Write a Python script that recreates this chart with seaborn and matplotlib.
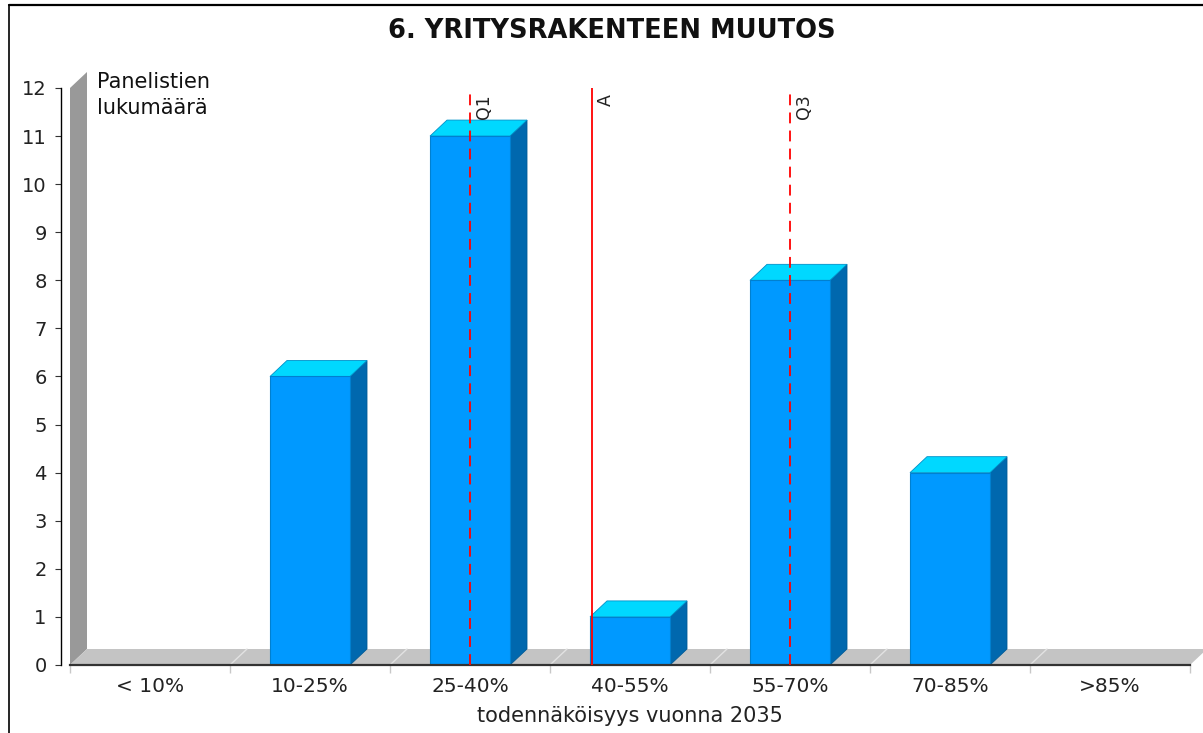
import matplotlib
matplotlib.use("Agg")
import matplotlib.pyplot as plt
import seaborn as sns
import pandas as pd
from matplotlib.patches import Polygon
from matplotlib.lines import Line2D
from matplotlib.transforms import offset_copy

# ---- data ----
categories = ["< 10%", "10-25%", "25-40%", "40-55%", "55-70%", "70-85%", ">85%"]
counts = [0, 6, 11, 1, 8, 4, 0]
marker_labels = ["Q1", "A", "Q3"]
marker_positions = [2.0, 2.76, 4.0]
marker_styles = ["dashed", "solid", "dashed"]
yticks = list(range(0, 13))
title = "6. YRITYSRAKENTEEN MUUTOS"
xlabel = "todennäköisyys vuonna 2035"
ylabel = "Panelistien\nlukumäärä"

# ---- style ----
sns.set_theme(style="white")
plt.rcParams["font.family"] = ["DejaVu Sans"]

W, H = 1203, 733
DPI = 100
fig = plt.figure(figsize=(W / DPI, H / DPI), dpi=DPI)
fig.patch.set_facecolor("white")

ax_left, ax_right, ax_top, ax_bottom = 70, 1190, 88, 665
ax = fig.add_axes([ax_left / W, (H - ax_bottom) / H,
                   (ax_right - ax_left) / W, (ax_bottom - ax_top) / H])
ax.set_facecolor("none")

df = pd.DataFrame({"cat": categories, "n": counts})
sns.barplot(data=df, x="cat", y="n", ax=ax, color="#0099FF", width=0.5,
            saturation=1, edgecolor="#0080D0", linewidth=0.8, zorder=4)

ax.set_xlim(-0.5, len(categories) - 0.5)
ax.set_ylim(0, 12)

# depth offset (pixels) converted to data units
DX, DY = 17, 16
inv = ax.transData.inverted()
x0, y0 = inv.transform(ax.transData.transform((0, 0)))
x1, y1 = inv.transform(ax.transData.transform((0, 0)) + [DX, DY])
ddx, ddy = x1 - x0, y1 - y0

xl, xr = ax.get_xlim()
ytop = ax.get_ylim()[1]

# back wall (left)
wall = Polygon([(xl, 0), (xl, ytop), (xl + ddx, ytop + ddy), (xl + ddx, ddy)],
               closed=True, facecolor="#999999", edgecolor="none",
               clip_on=False, zorder=1)
ax.add_patch(wall)
# floor
floor = Polygon([(xl, 0), (xr, 0), (xr + ddx, ddy), (xl + ddx, ddy)],
                closed=True, facecolor="#C4C4C4", edgecolor="none",
                clip_on=False, zorder=1)
ax.add_patch(floor)
# light diagonal lines on floor at category boundaries
for b in range(1, len(categories)):
    ax.plot([b - 0.5, b - 0.5 + ddx], [0, ddy], color="#E2E2E2", lw=1.0,
            clip_on=False, zorder=2)

# 3D faces of bars
for p in ax.patches:
    if not hasattr(p, "get_height"):
        continue
    h = p.get_height()
    if h <= 0:
        continue
    x = p.get_x()
    w = p.get_width()
    side = Polygon([(x + w, 0), (x + w + ddx, ddy), (x + w + ddx, h + ddy), (x + w, h)],
                   closed=True, facecolor="#0068AE", edgecolor="#005A96", lw=0.6,
                   clip_on=False, zorder=3)
    top = Polygon([(x, h), (x + ddx, h + ddy), (x + w + ddx, h + ddy), (x + w, h)],
                  closed=True, facecolor="#00D8FF", edgecolor="#0090C8", lw=0.6,
                  clip_on=False, zorder=3)
    ax.add_patch(side)
    ax.add_patch(top)

# reference markers
for lab, pos, ls in zip(marker_labels, marker_positions, marker_styles):
    line = ax.axvline(pos, color="#FF0000", lw=1.3, zorder=6)
    if ls == "dashed":
        line.set_dashes((6, 4))
    tr = offset_copy(ax.transData, fig=fig, x=5, y=-6, units="dots")
    ax.text(pos, ytop, lab, rotation=90, ha="left", va="top", fontsize=12.5,
            color="#222222", transform=tr, zorder=7)

# axes styling
for s in ["top", "right"]:
    ax.spines[s].set_visible(False)
ax.spines["left"].set_position(("outward", 9 * 72 / DPI))
ax.spines["left"].set_color("black")
ax.spines["left"].set_linewidth(1.0)
ax.spines["bottom"].set_color("#333333")
ax.spines["bottom"].set_linewidth(1.6)
ax.spines["bottom"].set_zorder(5)

ax.set_yticks(yticks)
ax.set_yticklabels([str(t) for t in yticks])
ax.tick_params(axis="y", direction="out", length=4.3, width=0.8, color="#333333",
               pad=6, labelsize=14, labelcolor="#222222", left=True)
ax.set_xticks(range(len(categories)))
ax.set_xticklabels(categories)
ax.tick_params(axis="x", which="major", length=0, pad=9, labelsize=14.5,
               labelcolor="#222222")
ax.set_xticks([b - 0.5 for b in range(0, len(categories) + 1)], minor=True)
ax.tick_params(axis="x", which="minor", direction="out", length=6, width=1.0,
               color="#C8C8C8", bottom=True)
ax.set_xlabel("")
ax.set_ylabel("")

# texts
fig.text(612 / W, 1 - 31 / H, title, ha="center", va="center", fontsize=18.5,
         fontweight="bold", color="#111111")
fig.text(630 / W, 1 - 716 / H, xlabel, ha="center", va="center", fontsize=15,
         color="#222222")
fig.text(97 / W, 1 - 72 / H, ylabel, ha="left", va="top", fontsize=15,
         color="#111111", linespacing=1.35)

# outer border (top and left)
fig.add_artist(Line2D([9 / W, 1], [1 - 4.5 / H, 1 - 4.5 / H], color="black",
                      lw=1.6, transform=fig.transFigure))
fig.add_artist(Line2D([9 / W, 9 / W], [0, 1 - 4.5 / H], color="black",
                      lw=1.2, transform=fig.transFigure))

fig.savefig("out.png", dpi=DPI, facecolor="white")
